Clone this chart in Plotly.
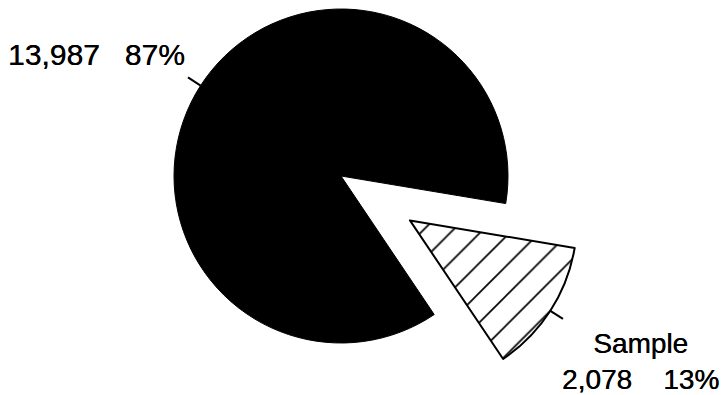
import math
import plotly.graph_objects as go

# Data
categories = ["Sample", "Other"]
counts = [2078, 13987]

# Figure geometry (pixels)
W, H = 725, 395
CX, CY, R = 341, 176, 167        # centre and radius of the main pie
PULL_PX = 82                     # how far the "Sample" wedge is pulled out
START = 99.5                     # clockwise angle from 12 o'clock where "Sample" starts

total = sum(counts)
shares = [c / total for c in counts]

# clockwise angle (from 12 o'clock) of the middle of each wedge
mids = []
acc = START
for s in shares:
    mids.append(acc + s * 360 / 2)
    acc += s * 360


def px(x):
    return x / W


def py(y):
    return 1 - y / H


def polar(cx, cy, r, ang):
    a = math.radians(ang)
    return cx + r * math.sin(a), cy - r * math.cos(a)


# pulled-out centre of the "Sample" wedge
SX, SY = polar(CX, CY, PULL_PX, mids[0])


def domain(cx, cy):
    return dict(x=[px(cx - R), px(cx + R)], y=[py(cy + R), py(cy - R)])


common = dict(
    values=counts,
    labels=categories,
    sort=False,
    direction="clockwise",
    rotation=START,
    textinfo="none",
    hoverinfo="label+value+percent",
    showlegend=False,
)

fig = go.Figure()

# solid black wedge (the remainder)
fig.add_trace(go.Pie(
    **common,
    domain=domain(CX, CY),
    marker=dict(
        colors=["rgba(0,0,0,0)", "black"],
        line=dict(color="black", width=[0, 1]),
    ),
))

# hatched "Sample" wedge, drawn offset from the main pie
fig.add_trace(go.Pie(
    **common,
    domain=domain(SX, SY),
    marker=dict(
        colors=["white", "rgba(0,0,0,0)"],
        line=dict(color="black", width=[2, 0]),
        pattern=dict(shape=["/", ""], fgcolor="black", bgcolor="white",
                     size=21, solidity=0.08, fillmode="replace"),
    ),
))

# short radial leader ticks
shapes = []
for (cx, cy), ang in [((SX, SY), mids[0]), ((CX, CY), mids[1])]:
    x0, y0 = polar(cx, cy, R, ang)
    x1, y1 = polar(cx, cy, R + 15, ang)
    shapes.append(dict(type="line", xref="paper", yref="paper",
                       x0=px(x0), y0=py(y0), x1=px(x1), y1=py(y1),
                       line=dict(color="black", width=2)))

NB = "\u00a0"
pct = [f"{round(s * 100)}%" for s in shares]
cnt = [f"{c:,}" for c in counts]

# slightly heavier strokes for the labels
heavy = "0.35px 0 0 black"

annotations = [
    dict(text=f"{cnt[1]}{NB * 3}{pct[1]}", x=px(187), y=py(55),
         xref="paper", yref="paper", xanchor="right", yanchor="middle",
         showarrow=False,
         font=dict(family="Liberation Sans", size=30, color="black", shadow=heavy)),
    dict(text=f"{categories[0]}<br>{cnt[0]}{NB * 4}{pct[0]}", x=px(640), y=py(361),
         xref="paper", yref="paper", xanchor="center", yanchor="middle", align="center",
         showarrow=False,
         font=dict(family="Liberation Sans", size=28, color="black", shadow=heavy)),
]

fig.update_layout(
    width=W, height=H,
    margin=dict(l=0, r=0, t=0, b=0),
    paper_bgcolor="white", plot_bgcolor="white",
    shapes=shapes,
    annotations=annotations,
)

fig.write_html("out.html")
